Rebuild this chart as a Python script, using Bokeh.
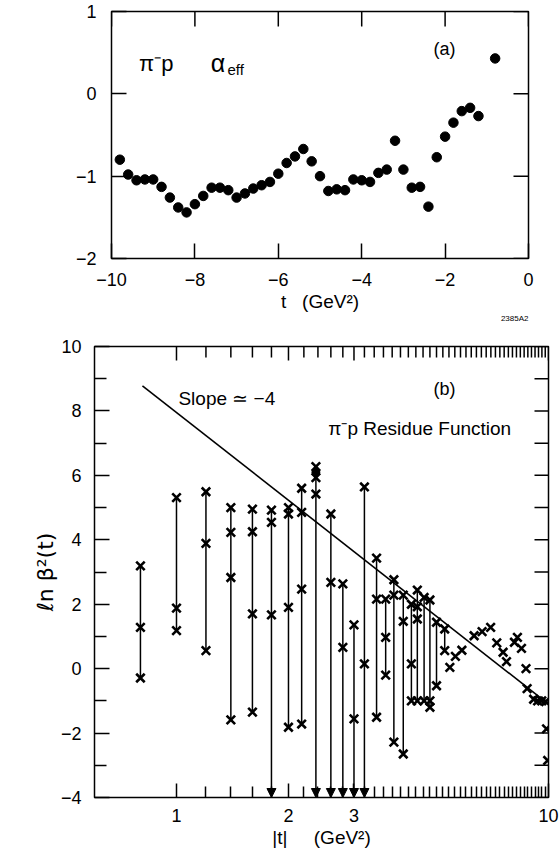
import math
from bokeh.plotting import figure
from bokeh.models import (ColumnDataSource, FixedTicker, Label, Title,
                          Arrow, NormalHead, PrintfTickFormatter)
from bokeh.embed import file_html
from bokeh.resources import INLINE

FONT = "Liberation Sans"

# ---------------- Panel (a): alpha_eff vs t ----------------
t_a = [-9.8, -9.6, -9.4, -9.2, -9.0, -8.8, -8.6, -8.4, -8.2, -8.0, -7.8, -7.6, -7.4, -7.2,
       -7.0, -6.8, -6.6, -6.4, -6.2, -6.0, -5.8, -5.6, -5.4, -5.2, -5.0, -4.8, -4.6, -4.4,
       -4.2, -4.0, -3.8, -3.6, -3.4, -3.2, -3.0, -2.8, -2.6, -2.4, -2.2, -2.0, -1.8, -1.6,
       -1.4, -1.2, -0.8]
alpha_eff = [-0.80, -0.98, -1.05, -1.04, -1.04, -1.13, -1.26, -1.38, -1.44, -1.34, -1.24,
             -1.14, -1.14, -1.17, -1.26, -1.21, -1.15, -1.11, -1.07, -0.97, -0.84, -0.76,
             -0.67, -0.82, -1.00, -1.18, -1.16, -1.17, -1.04, -1.05, -1.07, -0.96, -0.92,
             -0.57, -0.92, -1.14, -1.13, -1.37, -0.77, -0.52, -0.35, -0.21, -0.17, -0.27, 0.43]
t_min_a, t_max_a = -10, 0
a_min, a_max = -2, 1
xticks_a = [-10, -8, -6, -4, -2, 0]
yticks_a = [-2, -1, 0, 1]

# ---------------- Panel (b): ln beta^2 vs |t| ----------------
col_t = [0.8, 1.0, 1.2, 1.4, 1.6, 1.8, 2.0, 2.17, 2.37, 2.6, 2.8, 3.0, 3.2, 3.45, 3.65,
         3.84, 4.07, 4.28, 4.44, 4.63, 4.8, 5.0, 5.26]
col_y = [
    [3.19, 1.28, -0.29],
    [5.31, 1.88, 1.18],
    [5.49, 3.89, 0.56],
    [5.00, 4.23, 2.83, -1.59],
    [4.95, 4.25, 1.70, -1.35],
    [4.92, 4.54, 1.67],
    [5.00, 4.80, 1.90, -1.82],
    [5.60, 4.85, 2.47, -1.72],
    [6.27, 5.93, 5.42],
    [4.80, 2.68],
    [2.63, 0.66],
    [1.36, -1.56],
    [5.64, 0.15],
    [3.43, 2.16, -1.51],
    [2.16, 0.97, -0.20],
    [2.76, 2.28, -2.28],
    [2.28, 1.47, -2.65],
    [2.00, 0.15, -1.00],
    [2.44, 1.92, 1.54, -1.00],
    [2.21, -1.00],
    [2.13, -1.00, -1.20],
    [1.44, -0.53],
    [1.23, 0.56],
]
col_upper_limit = [False, False, False, False, False, True, False, False, True, True, True,
                   True, True, False, False, False, False, False, False, False, False, False,
                   False]
iso_t = [5.43, 5.62, 5.85, 6.31, 6.63, 6.99, 7.26, 7.55, 7.71, 8.10, 8.25, 8.46, 8.70, 8.76,
         9.12, 9.35, 9.59, 9.83, 9.88, 9.95]
iso_y = [0.04, 0.38, 0.57, 1.02, 1.15, 1.28, 0.80, 0.51, 0.22, 0.82, 0.97, 0.63, 0.00, -0.62,
         -0.95, -1.00, -1.00, -1.02, -1.87, -2.85]
dot_t = [2.37]
dot_y = [6.10]
slope_t = [0.81, 10.0]
slope_y = [8.78, -1.10]
y_min_b, y_max_b = -4, 10
t_min_b, t_max_b = 0.602, 10.0
xticks_b = [1, 2, 3, 10]
xminor_b = [round(1.2 + 0.2 * i, 1) for i in range(44) if round(1.2 + 0.2 * i, 1) not in (2.0, 3.0)]
yticks_b = [-4, -2, 0, 2, 4, 6, 8, 10]
yminor_b = [-3, -1, 1, 3, 5, 7, 9]

# layout (pixels)
W = 559
H1, H2 = 325, 540
B1 = dict(left=111, right=31, top=11, bottom=67)
B2 = dict(left=94, right=11, top=21, bottom=68)


def style_axis(ax, tick_len, fs="18px"):
    ax.major_tick_line_color = "black"
    ax.major_tick_line_width = 1.5
    ax.major_tick_out = 0
    ax.major_tick_in = tick_len
    ax.minor_tick_line_color = None
    ax.axis_line_color = "black"
    ax.major_label_text_font = FONT
    ax.major_label_text_font_size = fs
    ax.major_label_text_color = "black"


def text_title(text, size, align="center", font=FONT):
    return Title(text=text, align=align, text_font=font, text_font_size=size,
                 text_font_style="normal", text_color="black", standoff=0)


# ---------- figure (a) ----------
p1 = figure(width=W, height=H1, x_range=(t_min_a, t_max_a), y_range=(a_min, a_max),
            output_backend="svg", toolbar_location=None,
            min_border_left=B1["left"], min_border_right=B1["right"],
            min_border_top=B1["top"], min_border_bottom=B1["bottom"])
p1.grid.visible = False
p1.outline_line_color = "black"
p1.outline_line_width = 1.5

xa = p1.xaxis[0]
xa.ticker = FixedTicker(ticks=xticks_a)
style_axis(xa, 15)
xa.major_label_standoff = 14

ya = p1.yaxis[0]
ya.ticker = FixedTicker(ticks=yticks_a)
style_axis(ya, 15)
ya.major_label_standoff = 15

p1.scatter(t_a, alpha_eff, size=9.5, color="black")

fw1 = W - B1["left"] - B1["right"]
fh1 = H1 - B1["top"] - B1["bottom"]
dx1 = 15 * (t_max_a - t_min_a) / fw1
dy1 = 15 * (a_max - a_min) / fh1
n = len(xticks_a)
m = len(yticks_a)
p1.segment(x0=list(xticks_a), y0=[a_max] * n, x1=list(xticks_a), y1=[a_max - dy1] * n,
           line_color="black", line_width=1.5)
p1.segment(x0=[t_max_a] * m, y0=list(yticks_a), x1=[t_max_a - dx1] * m, y1=list(yticks_a),
           line_color="black", line_width=1.5)

p1.add_layout(Label(x=-9.34, y=0.37, text="π⁻p", text_font=FONT, text_font_size="22px",
                    text_baseline="middle", text_color="black"))
p1.add_layout(Label(x=-7.62, y=0.37, text="α", text_font=FONT, text_font_size="25px",
                    text_baseline="middle", text_color="black"))
p1.add_layout(Label(x=-7.22, y=0.29, text="eff", text_font=FONT, text_font_size="15px",
                    text_baseline="middle", text_color="black"))
p1.add_layout(Label(x=-2.28, y=0.55, text="(a)", text_font=FONT, text_font_size="18px",
                    text_baseline="middle", text_color="black"))
p1.add_layout(text_title("t\u00a0\u00a0\u00a0(GeV²)", "19px"), "below")
p1.add_layout(text_title("2385A2", "8px", align="right"), "below")

# ---------- figure (b) ----------
p2 = figure(width=W, height=H2, x_axis_type="log", x_range=(t_min_b, t_max_b),
            y_range=(y_min_b, y_max_b), output_backend="svg", toolbar_location=None,
            min_border_left=B2["left"], min_border_right=B2["right"],
            min_border_top=B2["top"], min_border_bottom=B2["bottom"])
p2.grid.visible = False
p2.outline_line_color = "black"
p2.outline_line_width = 1.5

xb = p2.xaxis[0]
xb.ticker = FixedTicker(ticks=xticks_b, minor_ticks=xminor_b)
xb.formatter = PrintfTickFormatter(format="%d")
style_axis(xb, 14)
xb.minor_tick_line_color = "black"
xb.minor_tick_line_width = 1.5
xb.minor_tick_in = 11
xb.minor_tick_out = 0
xb.major_label_standoff = 11

yb = p2.yaxis[0]
yb.ticker = FixedTicker(ticks=yticks_b, minor_ticks=yminor_b)
style_axis(yb, 15)
yb.minor_tick_line_color = "black"
yb.minor_tick_line_width = 1.5
yb.minor_tick_in = 12
yb.minor_tick_out = 0
yb.major_label_standoff = 13

p2.add_layout(text_title("|t|\u00a0\u00a0\u00a0\u00a0\u00a0(GeV²)", "19px"), "below")
p2.add_layout(text_title("ℓn β²(t)", "22px", font="DejaVu Sans"), "left")

# vertical ranges
seg_t, seg_top, seg_bot = [], [], []
arr_t, arr_top, arr_end = [], [], []
cross_t, cross_y = [], []
for t, ys, lim in zip(col_t, col_y, col_upper_limit):
    for y in ys:
        cross_t.append(t)
        cross_y.append(y)
    if lim:
        arr_t.append(t)
        arr_top.append(max(ys))
        arr_end.append(y_min_b)
    else:
        seg_t.append(t)
        seg_top.append(max(ys))
        seg_bot.append(min(ys))

p2.segment(x0=seg_t, y0=seg_top, x1=seg_t, y1=seg_bot, line_color="black", line_width=1.5)

fw2 = W - B2["left"] - B2["right"]
fh2 = H2 - B2["top"] - B2["bottom"]
decades = math.log10(t_max_b / t_min_b)
xall = xticks_b + xminor_b
xlen = [14] * len(xticks_b) + [11] * len(xminor_b)
p2.segment(x0=xall, y0=[y_max_b] * len(xall), x1=list(xall),
           y1=[y_max_b - L * (y_max_b - y_min_b) / fh2 for L in xlen],
           line_color="black", line_width=1.5)
yl = yticks_b + yminor_b
p2.segment(x0=[t_max_b] * len(yl), y0=yl, x1=[t_max_b / 10 ** (14 * decades / fw2)] * len(yl),
           y1=list(yl), line_color="black", line_width=1.5)

arr_src = ColumnDataSource(dict(t=arr_t, top=arr_top, end=arr_end))
p2.add_layout(Arrow(end=NormalHead(size=9, fill_color="black", line_color="black", line_width=1),
                    x_start="t", y_start="top", x_end="t", y_end="end", source=arr_src,
                    line_color="black", line_width=1.5))

p2.line(slope_t, slope_y, line_color="black", line_width=1.6)
p2.scatter(cross_t, cross_y, marker="x", size=12, line_color="black", line_width=2.6)
p2.scatter(iso_t, iso_y, marker="x", size=12, line_color="black", line_width=2.6)
p2.scatter(dot_t, dot_y, size=8, color="black")

p2.add_layout(Label(x=1.012, y=8.40, text="Slope ≃ −4", text_font=FONT, text_font_size="19px",
                    text_baseline="middle", text_color="black"))
p2.add_layout(Label(x=4.91, y=8.68, text="(b)", text_font=FONT, text_font_size="18px",
                    text_baseline="middle", text_color="black"))
p2.add_layout(Label(x=2.56, y=7.47, text="π⁻p  Residue Function", text_font=FONT,
                    text_font_size="19px", text_baseline="middle", text_color="black"))

open("out.html", "w").write(file_html([p1, p2], INLINE))
